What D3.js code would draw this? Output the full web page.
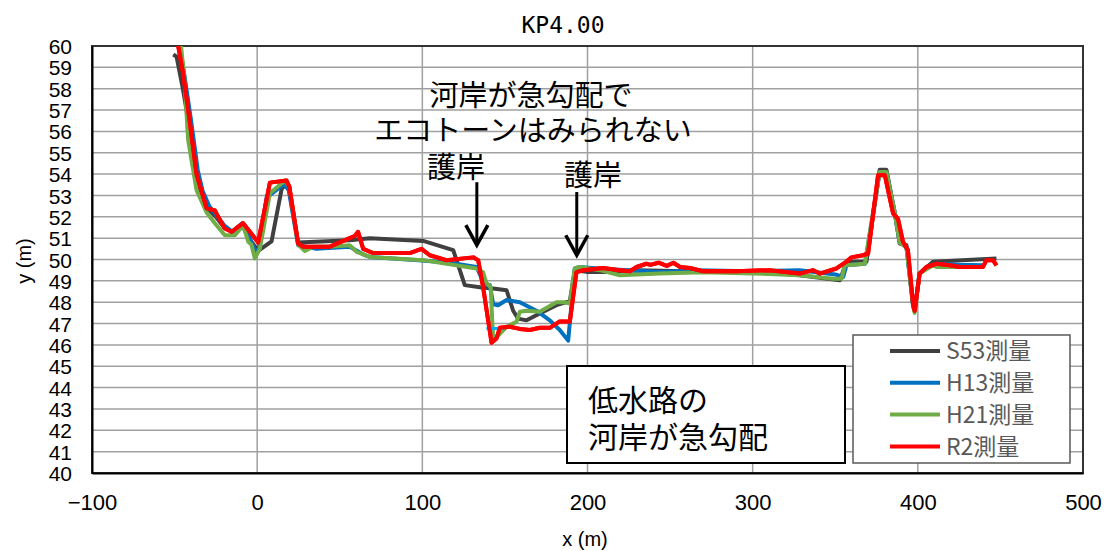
<!DOCTYPE html>
<html>
<head>
<meta charset="utf-8">
<script src="https://cdn.jsdelivr.net/npm/d3@7"></script>
<style>
  body { margin: 0; background: #fff; }
  svg { display: block; }
</style>
</head>
<body>
<div id="chart"></div>
<script>
// Tick values
const xTicks = [-100, 0, 100, 200, 300, 400, 500];
const yTicks = d3.range(40, 61, 1);

// Survey series: [x (m), y (m)]
const s53 = [[-50.8,59.6],[-48.8,59.5],[-45,58.0],[-41,56.2],[-37,54.0],[-33,52.9],[-29,52.3],[-25,52.0],[-20,51.5],[-15,51.3],[-9,51.6],[-5,51.0],[0.6,50.4],[8.7,50.85],[14.8,53.3],[17,53.5],[19.5,53.2],[24.8,50.8],[56,50.9],[68.2,51.0],[100.5,50.87],[118.7,50.44],[125.7,48.8],[134.8,48.7],[142.9,48.64],[151,48.56],[155,47.6],[158,47.23],[163.1,47.15],[171.1,47.47],[181.2,47.86],[189.3,48.05],[192.3,49.5],[199.4,49.42],[209.5,49.42],[230,49.5],[260,49.45],[300,49.45],[328.5,49.26],[352.8,49.03],[356.8,49.9],[368.9,49.9],[376.9,54.2],[381,54.2],[386,52.2],[389,50.75],[393.1,50.67],[397.1,47.8],[398.1,47.6],[401,49.34],[409.2,49.9],[447.6,50.05]];

const h13 = [[-47.5,60.3],[-44,58.6],[-40,56.5],[-36,54.2],[-33,53.2],[-29,52.5],[-25,52.1],[-20,51.6],[-15,51.3],[-9,51.7],[-5,51.1],[-1.4,50.4],[1,50.5],[5.7,52.9],[15.7,53.5],[19,53.3],[24.8,50.67],[36,50.5],[56,50.6],[65.2,50.2],[68.2,50.12],[100,49.95],[116.6,49.85],[132.8,49.65],[137.8,48.8],[140.9,48.8],[142.9,47.9],[145.9,47.86],[151,48.1],[159,48.0],[169.1,47.6],[177.2,47.15],[183.2,46.7],[188.3,46.2],[192.3,49.58],[195.3,49.65],[210,49.55],[225,49.5],[243.8,49.42],[265,49.5],[300,49.45],[328.5,49.5],[350,49.3],[354.8,49.18],[356.8,49.73],[368,49.8],[376.9,54.1],[381,54.1],[386,52.2],[389,50.8],[393.1,50.6],[397.1,47.9],[398.1,47.6],[401,49.34],[405,49.6],[411.3,49.8],[425,49.75],[439.5,49.73]];
const h13Low = [[138.8,46.77],[148.9,46.77]];

const h21 = [[-46.5,60.3],[-44,58.4],[-41.8,55.6],[-36.7,53.25],[-30.6,52.2],[-25.6,51.7],[-19.6,51.14],[-13.5,51.14],[-8.5,51.6],[-5.4,50.83],[-3.5,50.7],[-1.4,50.05],[1.6,50.5],[7.7,53.1],[16.8,53.7],[19.5,53.4],[24.8,50.7],[28.9,50.4],[33.9,50.6],[44,50.6],[56,50.67],[60.2,50.36],[68.2,50.12],[100.5,49.97],[132.8,49.58],[136.8,49.4],[138.8,48.9],[141.4,48.7],[142.9,46.2],[151,46.85],[157,47.08],[159,47.55],[163.1,47.6],[171.1,47.55],[181.2,48.0],[186,48.0],[189.3,47.94],[192.3,49.58],[195.3,49.65],[207.4,49.5],[219.6,49.26],[243.8,49.34],[270,49.4],[300,49.35],[328.5,49.26],[348.7,49.1],[353.8,49.1],[355.8,49.73],[367.9,49.8],[376.9,54.1],[381,54.1],[386,52.2],[389,50.8],[393.1,50.55],[397.1,47.9],[398.1,47.5],[401,49.34],[409.2,49.73],[411.3,49.65],[439.5,49.65]];

const r2 = [[-48.5,60.3],[-44.8,58.7],[-40.7,56.4],[-36.7,54.0],[-30.6,52.4],[-25.6,52.3],[-23.6,52.0],[-19.6,51.45],[-15.5,51.3],[-8.5,51.7],[-4.4,51.3],[0.6,50.8],[7.7,53.6],[17.8,53.7],[19.5,53.4],[24.8,50.75],[27.8,50.6],[36,50.6],[44,50.6],[56,51.0],[59.1,51.1],[61.1,51.3],[64.2,50.5],[70.2,50.3],[92.4,50.3],[99.5,50.5],[104.5,50.2],[114.6,49.97],[130.8,50.1],[133.8,49.97],[136.8,48.7],[141.9,46.1],[144.9,46.3],[146.9,46.8],[153,46.85],[159,46.75],[165.1,46.7],[171.1,46.8],[177.2,46.8],[183.2,47.1],[189.3,47.1],[193.3,49.4],[197.3,49.5],[209.4,49.6],[219.6,49.5],[225.6,49.45],[229.7,49.65],[235.7,49.8],[238,49.75],[243,49.85],[248,49.7],[252,49.85],[256,49.65],[262,49.6],[270,49.45],[290,49.45],[310,49.5],[328.5,49.34],[336.6,49.5],[340.6,49.34],[350.7,49.58],[356.8,49.9],[359.8,50.1],[366.8,50.2],[369.9,50.28],[375.9,53.95],[380,53.95],[385,52.16],[388,51.9],[391,50.83],[394,50.44],[397.1,47.94],[398.1,47.6],[401.1,49.34],[405.2,49.65],[411.3,49.8],[419.3,49.73],[425.4,49.65],[439.5,49.65],[441.5,49.97],[445.5,49.97],[447.6,49.73]];

const seriesNames = ["S53測量", "H13測量", "H21測量", "R2測量"];
const seriesColors = ["#404040", "#0070C0", "#70AD47", "#FF0000"];
const seriesData = [s53, h13, h21, r2];

const width = 1105, height = 551;
const margin = {top: 46, right: 22, bottom: 78, left: 92};
const jp = "'Noto Sans CJK JP', sans-serif";
const num = "'Liberation Sans', Arial, sans-serif";

const svg = d3.select("#chart").append("svg")
    .attr("width", width)
    .attr("height", height);

const x = d3.scaleLinear().domain([-100, 500]).range([margin.left, width - margin.right]);
const y = d3.scaleLinear().domain([40, 60]).range([height - margin.bottom, margin.top]);

// gridlines
svg.append("g")
    .selectAll("line.h")
    .data(yTicks)
    .join("line")
    .attr("x1", x(-100)).attr("x2", x(500))
    .attr("y1", d => y(d)).attr("y2", d => y(d))
    .attr("stroke", "#a0a0a0")
    .attr("stroke-width", 1.5);

svg.append("g")
    .selectAll("line.v")
    .data(xTicks)
    .join("line")
    .attr("x1", d => x(d)).attr("x2", d => x(d))
    .attr("y1", y(40)).attr("y2", y(60))
    .attr("stroke", "#a0a0a0")
    .attr("stroke-width", 1.5);

// plot frame
svg.append("rect")
    .attr("x", x(-100)).attr("y", y(60))
    .attr("width", x(500) - x(-100))
    .attr("height", y(40) - y(60))
    .attr("fill", "none")
    .attr("stroke", "#333")
    .attr("stroke-width", 2);

// axes
const yAxis = svg.append("g")
    .attr("transform", "translate(" + x(-100) + ",0)")
    .call(d3.axisLeft(y).tickValues(yTicks).tickSize(0).tickPadding(20));
yAxis.select(".domain").attr("stroke", "#000").attr("stroke-width", 2);
yAxis.selectAll("text")
    .attr("font-family", num)
    .attr("font-size", 21)
    .attr("fill", "#000")
    .attr("dy", "0.36em");

const xAxis = svg.append("g")
    .attr("transform", "translate(0," + y(40) + ")")
    .call(d3.axisBottom(x).tickValues(xTicks).tickSize(0));
xAxis.select(".domain").attr("stroke", "#000").attr("stroke-width", 2);
xAxis.selectAll("text")
    .attr("font-family", num)
    .attr("font-size", 22)
    .attr("fill", "#000")
    .attr("y", 37)
    .attr("dy", null);

// clip for lines
svg.append("clipPath").attr("id", "plotClip")
    .append("rect")
    .attr("x", x(-100)).attr("y", y(60))
    .attr("width", x(500) - x(-100))
    .attr("height", y(40) - y(60));

const line = d3.line()
    .x(d => x(d[0]))
    .y(d => y(d[1]));

const lines = svg.append("g").attr("clip-path", "url(#plotClip)");

lines.selectAll("path.series")
    .data(seriesData)
    .join("path")
    .attr("class", "series")
    .attr("d", line)
    .attr("fill", "none")
    .attr("stroke", (d, i) => seriesColors[i])
    .attr("stroke-width", 4)
    .attr("stroke-linejoin", "round");

lines.append("path")
    .attr("d", line(h13Low))
    .attr("fill", "none")
    .attr("stroke", "#00B0F0")
    .attr("stroke-width", 3);

// red on top again
lines.append("path")
    .attr("d", line(r2))
    .attr("fill", "none")
    .attr("stroke", seriesColors[3])
    .attr("stroke-width", 4)
    .attr("stroke-linejoin", "round");

// title
svg.append("text")
    .attr("x", 563).attr("y", 33)
    .attr("text-anchor", "middle")
    .attr("font-family", "'DejaVu Sans Mono', monospace")
    .attr("font-size", 23)
    .attr("fill", "#000")
    .text("KP4.00");

// axis labels
svg.append("text")
    .attr("x", 585).attr("y", 546)
    .attr("text-anchor", "middle")
    .attr("font-family", num)
    .attr("font-size", 20)
    .text("x (m)");

svg.append("text")
    .attr("transform", "translate(31,261) rotate(-90)")
    .attr("text-anchor", "middle")
    .attr("font-family", num)
    .attr("font-size", 20)
    .text("y (m)");

// annotations
const ann = svg.append("g")
    .attr("font-family", jp)
    .attr("font-size", 29)
    .attr("fill", "#000");

ann.append("text").attr("x", 531).attr("y", 106).attr("text-anchor", "middle").text("河岸が急勾配で");
ann.append("text").attr("x", 533).attr("y", 141).attr("text-anchor", "middle").text("エコトーンはみられない");
ann.append("text").attr("x", 456).attr("y", 178).attr("text-anchor", "middle").text("護岸");
ann.append("text").attr("x", 593).attr("y", 186).attr("text-anchor", "middle").text("護岸");

// arrows
function arrow(xv, y0, y1) {
    const px = x(xv), top = y(y0), tip = y(y1);
    svg.append("line")
        .attr("x1", px).attr("x2", px)
        .attr("y1", top).attr("y2", tip - 2)
        .attr("stroke", "#000").attr("stroke-width", 3);
    svg.append("path")
        .attr("d", "M" + (px - 11) + "," + (tip - 20) + "L" + px + "," + tip + "L" + (px + 11) + "," + (tip - 20))
        .attr("fill", "none")
        .attr("stroke", "#000")
        .attr("stroke-width", 3.5);
}
arrow(133, 53.62, 50.67);
arrow(193.5, 53.16, 50.2);

// text box
svg.append("rect")
    .attr("x", 567).attr("y", 366)
    .attr("width", 278).attr("height", 97)
    .attr("fill", "#fff")
    .attr("stroke", "#000")
    .attr("stroke-width", 2);
svg.append("text").attr("x", 588).attr("y", 411)
    .attr("font-family", jp).attr("font-size", 30).text("低水路の");
svg.append("text").attr("x", 588).attr("y", 448)
    .attr("font-family", jp).attr("font-size", 30).text("河岸が急勾配");

// legend
const legend = svg.append("g");
legend.append("rect")
    .attr("x", 853).attr("y", 335)
    .attr("width", 217).attr("height", 128)
    .attr("fill", "#fff")
    .attr("stroke", "#595959")
    .attr("stroke-width", 1.5);

const rows = legend.selectAll("g.row")
    .data(seriesNames)
    .join("g")
    .attr("class", "row")
    .attr("transform", (d, i) => "translate(0," + (351 + i * 31.8) + ")");

rows.append("line")
    .attr("x1", 890).attr("x2", 940)
    .attr("stroke", (d, i) => seriesColors[i])
    .attr("stroke-width", 4);

rows.append("text")
    .attr("x", 946)
    .attr("dy", "0.36em")
    .attr("font-family", jp)
    .attr("font-size", 23)
    .attr("fill", "#595959")
    .text(d => d);
</script>
</body>
</html>
